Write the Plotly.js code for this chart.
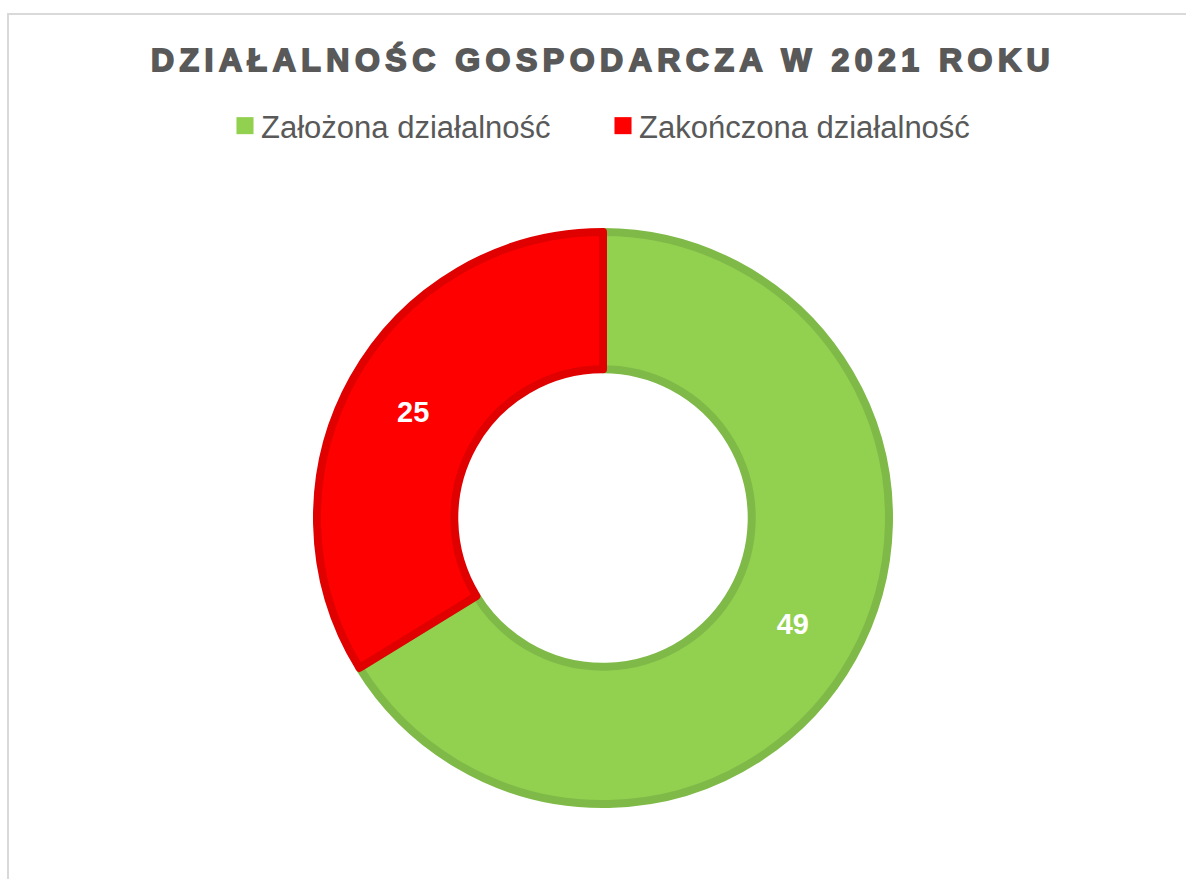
<!DOCTYPE html>
<html>
<head>
<meta charset="utf-8">
<script src="https://cdn.plot.ly/plotly-3.0.1.min.js"></script>
<style>
  html, body { margin: 0; padding: 0; background: #ffffff; }
  #frame { position: absolute; left: 7px; top: 13px; width: 1200px; height: 900px; border: 2px solid #d9d9d9; box-sizing: border-box; }
  #chart { position: absolute; left: 0; top: 0; width: 1186px; height: 879px; }
  .gtitle { letter-spacing: 5.5px; stroke: #595959; stroke-width: 1.8px; }
  .legendpie { transform: translate(24px, 0px) scale(1.42); stroke-width: 0 !important; }
</style>
</head>
<body>
<div id="frame"></div>
<div id="chart"></div>
<script>
const categories = ["Założona działalność", "Zakończona działalność"];
const values = [49, 25];
const fillColors = ["#92d050", "#ff0000"];
const lineColors = ["#7fba48", "#e00000"];
const chartTitle = "DZIAŁALNOŚC GOSPODARCZA W 2021 ROKU";

const trace = {
  type: "pie",
  labels: categories,
  values: values,
  hole: 0.52,
  sort: false,
  direction: "clockwise",
  rotation: 0,
  marker: { colors: fillColors, line: { color: lineColors, width: 8 } },
  textinfo: "value",
  textposition: "inside",
  insidetextorientation: "horizontal",
  textfont: { family: "Liberation Sans, Arial, sans-serif", size: 29, color: "#ffffff", weight: "bold" },
  hoverinfo: "label+value",
  domain: { x: [0, 1], y: [0, 1] }
};

const layout = {
  width: 1186,
  height: 879,
  margin: { l: 317, r: 297, t: 232, b: 75 },
  paper_bgcolor: "rgba(0,0,0,0)",
  plot_bgcolor: "rgba(0,0,0,0)",
  title: {
    text: chartTitle,
    x: 0.5085, xanchor: "center", xref: "container",
    y: 1 - 60 / 879, yanchor: "middle", yref: "container",
    font: { family: "Liberation Sans, Arial, sans-serif", size: 32, color: "#595959", weight: "bold" }
  },
  showlegend: true,
  legend: {
    orientation: "h",
    x: (221 - 317) / 572, xanchor: "left",
    y: (879 - 75 - 126) / 572, yanchor: "middle",
    font: { family: "Liberation Sans, Arial, sans-serif", size: 31, color: "#595959" },
    itemwidth: 30,
    entrywidth: 333,
    traceorder: "normal"
  }
};

Plotly.newPlot("chart", [trace], layout, { displayModeBar: false, staticPlot: true });
</script>
</body>
</html>
